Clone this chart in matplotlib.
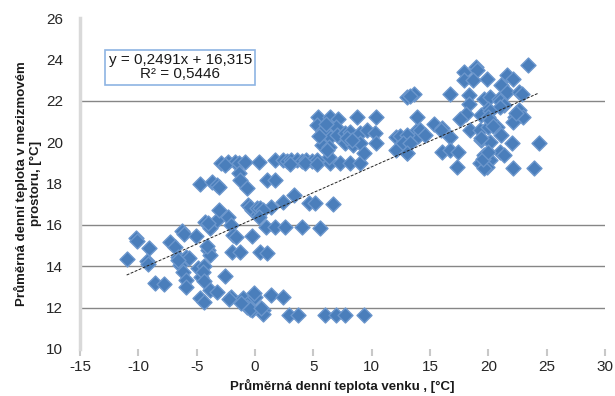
import matplotlib
matplotlib.use("Agg")
import matplotlib.pyplot as plt
import numpy as np

plt.rcParams['font.family'] = ['Liberation Sans', 'DejaVu Sans']
plt.rcParams['axes.unicode_minus'] = False

# ---- data ----
x_left = [-11.0, -10.2, -10.1, -9.1, -9.3, -9.2, -8.6, -7.8, -7.3, -6.9, -6.3, -6.1, -5.1,
          -6.6, -5.9, -5.7, -6.4, -6.6, -6.2, -5.9, -5.9, -4.9, -4.4, -4.6, -4.5, -4.4,
          -4.7, -4.4, -3.9, -3.3, -2.1, -2.2, -2.6, -4.0, -3.9, -4.1, -4.3, -3.9, -3.3,
          -3.1, -4.0, -2.3, -2.1, -1.9, -1.6, -2.0, -1.3, -0.3, -4.7, -3.7, -3.3, -3.1,
          -2.9, -2.3, -1.7, -1.4, -0.9, -2.6, -1.4, -1.3, -0.7, -0.6, -0.3, 0.0, -0.4,
          0.2, 0.3, -1.0, -0.6, -0.3, -0.7, 0.0, -0.4, -1.2]
y_left = [14.33, 15.35, 15.2, 14.86, 14.25, 14.1, 13.2, 13.14, 15.18, 14.94, 15.7, 15.55, 15.46,
          14.46, 14.46, 14.4, 14.06, 14.3, 13.73, 13.33, 12.98, 13.9, 14.0, 13.5, 13.7, 13.3,
          12.45, 12.29, 12.85, 12.77, 12.53, 12.4, 13.53, 14.78, 14.54, 15.0, 16.15, 15.83, 16.23,
          16.71, 16.1, 16.39, 15.99, 15.51, 15.43, 14.7, 14.7, 15.46, 18.0, 18.08, 17.92, 17.85,
          18.97, 19.05, 19.05, 19.0, 19.05, 18.9, 18.49, 18.16, 17.76, 16.96, 16.71, 16.63, 16.85,
          16.8, 19.05, 12.46, 12.22, 11.88, 12.04, 12.53, 11.95, 12.2]

x_mid = [1.7, 2.4, 2.7, 3.1, 3.6, 4.0, 4.4, 4.9, 5.3,
         3.0, 4.3, 5.3, 6.4, 7.3, 8.1, 9.0, 6.3,
         5.4, 6.4, 7.1, 5.3, 6.9, 8.7, 10.4,
         5.9, 6.4, 7.0, 7.7, 8.1, 9.0, 9.6, 10.3,
         5.7, 6.3, 7.7, 8.4, 9.0, 10.4, 9.3,
         12.1, 12.7, 13.3, 13.9, 12.4, 12.1, 13.0, 14.0,
         1.0, 1.7, 3.3, 2.4, 1.4, 4.6, 5.1, 6.7, 0.4, 0.7, 0.3,
         0.9, 1.7, 2.6, 4.0, 5.6, 0.4, 1.0,
         -0.1, 1.4, 2.4, 0.7, 0.7, 0.5,
         2.9, 3.7, 6.0, 6.9, 7.7, 9.3,
         5.8, 6.1, 5.5, 7.9, 8.3, 6.2]
y_mid = [19.13, 19.13, 19.1, 19.13, 19.13, 19.1, 19.13, 19.1, 19.13,
         18.95, 18.97, 18.95, 18.97, 18.97, 18.97, 18.97, 19.3,
         21.22, 21.22, 21.14, 20.82, 20.74, 21.22, 21.22,
         20.17, 20.26, 20.34, 20.42, 20.5, 20.42, 20.58, 20.42,
         19.86, 19.78, 19.94, 19.86, 19.94, 19.94, 19.46,
         20.26, 20.02, 20.02, 20.58, 20.3, 19.6, 19.46, 20.3,
         18.16, 18.16, 17.44, 17.12, 16.87, 17.05, 17.05, 17.0, 16.8, 16.7, 16.4,
         15.91, 15.91, 15.91, 15.91, 15.86, 14.7, 14.62,
         12.69, 12.61, 12.53, 11.88, 11.69, 12.0,
         11.66, 11.66, 11.66, 11.66, 11.66, 11.66,
         20.6, 20.9, 20.3, 20.2, 20.1, 19.6]

x_right = [13.0, 13.6, 13.3, 16.7, 17.9, 18.9, 19.0, 17.9, 18.7, 19.9, 23.4,
           21.6, 22.1, 21.1, 21.6, 22.6, 22.9, 18.3, 19.6, 20.1, 20.9, 18.3, 21.0, 21.3,
           20.0, 21.0, 19.4, 20.1, 20.0, 22.6, 22.3, 23.0, 22.1, 22.4, 18.1, 17.6, 13.9,
           14.1, 14.6, 15.3, 16.0, 15.9, 16.7, 18.4, 19.3, 20.0, 20.7, 20.1, 20.4,
           21.1, 22.0, 19.4, 20.1, 19.4, 24.3, 16.0, 16.7, 17.4, 13.0, 12.7, 13.3, 13.0,
           19.6, 20.1, 19.3, 19.9, 19.6, 21.0, 21.3, 19.5, 20.0, 17.3, 22.1, 23.9]
y_right = [22.19, 22.35, 22.25, 22.35, 23.4, 23.65, 23.48, 23.0, 23.0, 23.07, 23.72,
           23.24, 23.07, 22.75, 22.43, 22.43, 22.35, 22.27, 22.1, 22.19, 22.1, 21.86, 22.0, 21.8,
           21.62, 21.7, 21.3, 21.5, 21.2, 21.55, 21.22, 21.22, 20.98, 21.4, 21.38, 21.14, 21.22,
           20.58, 20.34, 20.9, 20.66, 20.6, 20.26, 20.58, 20.58, 20.74, 20.74, 21.06, 20.8,
           20.34, 19.94, 20.1, 20.02, 20.2, 19.94, 19.53, 19.6, 19.53, 20.34, 19.94, 19.94, 19.46,
           19.37, 19.13, 18.97, 18.81, 18.73, 19.53, 19.37, 19.2, 19.5, 18.81, 18.73, 18.73]

trend_slope = 0.2491
trend_intercept = 16.315
eq_text = "y = 0,2491x + 16,315"
r2_text = "R² = 0,5446"

x_ticks = [-15, -10, -5, 0, 5, 10, 15, 20, 25, 30]
y_ticks = [10, 12, 14, 16, 18, 20, 22, 24, 26]
grid_levels = [12, 14, 16, 22]   # gridlines visible in the reference

xlabel = "Průměrná denní teplota venku , [°C]"
ylabel = "Průměrná denní teplota v mezizmovém\nprostoru, [°C]"

# ---- figure ----
fig = plt.figure(figsize=(6.15, 3.96), dpi=100)
ax = fig.add_axes([80/615, 47/396, 525/615, 331/396])
ax.set_xlim(-15, 30)
ax.set_ylim(10, 26)

for g in grid_levels:
    ax.axhline(g, color='#868686', lw=1.0, zorder=1)

xs = np.array(x_left + x_mid + x_right)
ys = np.array(y_left + y_mid + y_right)
ax.scatter(xs, ys, marker='D', s=58, color='#4A7EBB', edgecolors='#6B96CC',
           linewidths=1.0, zorder=3)

tx = np.array([xs.min(), xs.max()])
ax.plot(tx, trend_slope * tx + trend_intercept, color='#222222', lw=0.7,
        linestyle=(0, (3, 1.5)), zorder=4)

ax.text(-6.4, 23.62, eq_text + "\n" + r2_text, ha='center', va='center',
        fontsize=11, color='#1a1a1a', linespacing=1.0, zorder=5,
        bbox=dict(boxstyle='square,pad=0.22', fc='white', ec='#8EB4E3', lw=1.2))

ax.set_xticks(x_ticks)
ax.set_yticks(y_ticks)
ax.tick_params(axis='x', length=5, width=1.5, color='#C8C8C8', labelsize=11,
               labelcolor='#262626', pad=3)
ax.tick_params(axis='y', length=0, labelsize=11, labelcolor='#262626', pad=12)

for s in ['top', 'right', 'bottom']:
    ax.spines[s].set_visible(False)
ax.spines['left'].set_color('#D9D9D9')
ax.spines['left'].set_linewidth(2.5)

ax.set_xlabel(xlabel, fontsize=9.5, fontweight='bold', color='#1a1a1a')
ax.xaxis.set_label_coords(0.5, -0.092)
ax.set_ylabel(ylabel, fontsize=9.5, fontweight='bold', color='#1a1a1a',
              linespacing=1.15)
ax.yaxis.set_label_coords(-0.073, 0.5)

fig.savefig("out.png", dpi=100)
